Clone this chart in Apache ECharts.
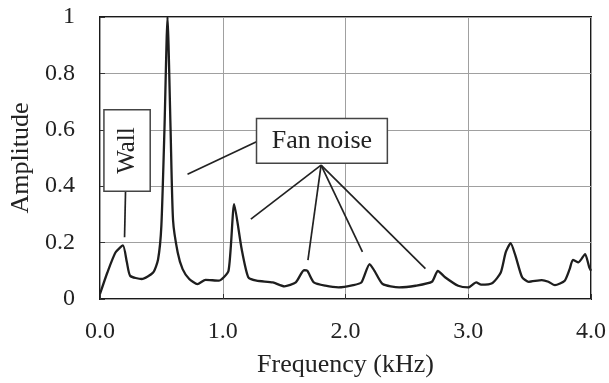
<!DOCTYPE html>
<html>
<head>
<meta charset="utf-8">
<script src="https://cdn.jsdelivr.net/npm/echarts@6/dist/echarts.min.js"></script>
<style>
  html,body{margin:0;padding:0;background:#fff;}
  #main{width:609px;height:383px;}
</style>
</head>
<body>
<div id="main"></div>
<script>
// spectrum (kHz, amplitude)
var freq = [0, 0.06, 0.126, 0.187, 0.219, 0.246, 0.34, 0.433, 0.473, 0.5, 0.525, 0.55, 0.575, 0.595, 0.633, 0.673, 0.727, 0.794, 0.86, 0.967,
            1.047, 1.093, 1.154, 1.208, 1.275, 1.408, 1.502, 1.595, 1.662, 1.689, 1.742, 1.836, 1.943, 2.063, 2.13, 2.196, 2.236, 2.303,
            2.437, 2.571, 2.704, 2.752, 2.811, 2.918, 3.0, 3.065, 3.105, 3.198, 3.265, 3.305, 3.345, 3.385, 3.439, 3.493, 3.599, 3.653,
            3.706, 3.786, 3.826, 3.853, 3.898, 3.952, 3.986, 4.0];
var amp  = [0.018, 0.094, 0.165, 0.19, 0.13, 0.082, 0.071, 0.094, 0.14, 0.26, 0.6, 1.0, 0.6, 0.28, 0.165, 0.106, 0.071, 0.053, 0.068, 0.065,
            0.1, 0.336, 0.177, 0.077, 0.065, 0.059, 0.045, 0.059, 0.102, 0.1, 0.059, 0.047, 0.041, 0.049, 0.059, 0.124, 0.1, 0.053,
            0.041, 0.047, 0.061, 0.1, 0.077, 0.047, 0.041, 0.059, 0.051, 0.057, 0.094, 0.165, 0.198, 0.153, 0.077, 0.061, 0.067, 0.061,
            0.049, 0.065, 0.106, 0.139, 0.13, 0.159, 0.112, 0.1];

var xTicks = [0, 1, 2, 3, 4];
var yTicks = [0, 0.2, 0.4, 0.6, 0.8, 1];

// annotation boxes and leader lines, in data units
var wallBox = {x0: 0.032, x1: 0.409, y0: 0.382, y1: 0.671, text: 'Wall'};
var fanBox  = {x0: 1.275, x1: 2.341, y0: 0.481, y1: 0.64, text: 'Fan noise'};
var leaders = [
  [[0.208, 0.382], [0.2, 0.219]],
  [[1.275, 0.558], [0.713, 0.442]],
  [[1.801, 0.475], [1.229, 0.283]],
  [[1.801, 0.475], [1.694, 0.138]],
  [[1.801, 0.475], [2.138, 0.167]],
  [[1.801, 0.475], [2.651, 0.108]]
];

var serif = "'Liberation Serif', 'Times New Roman', serif";
var txt = '#222';

var points = [];
for (var i = 0; i < freq.length; i++) points.push([freq[i], amp[i]]);

var myChart = echarts.init(document.getElementById('main'));
var option = {
  animation: false,
  grid: {left: 96, right: 14, top: 17, bottom: 83, show: true, borderColor: '#1a1a1a', borderWidth: 2},
  xAxis: {
    type: 'value', min: xTicks[0], max: xTicks[xTicks.length - 1], interval: 1,
    name: 'Frequency (kHz)', nameLocation: 'middle', nameGap: 53,
    nameTextStyle: {fontFamily: serif, fontSize: 26, color: txt},
    axisLine: {show: false},
    axisTick: {show: true, inside: true, length: 5, lineStyle: {color: '#333'}},
    axisLabel: {margin: 21, fontFamily: serif, fontSize: 24, color: txt,
      formatter: function (v) { return v.toFixed(1); }},
    splitLine: {show: true, lineStyle: {color: '#a0a0a0', width: 1}}
  },
  yAxis: {
    type: 'value', min: yTicks[0], max: yTicks[yTicks.length - 1], interval: 0.2,
    name: 'Amplitude', nameLocation: 'middle', nameGap: 66,
    nameTextStyle: {fontFamily: serif, fontSize: 26, color: txt},
    axisLine: {show: false},
    axisTick: {show: true, inside: true, length: 5, lineStyle: {color: '#333'}},
    axisLabel: {margin: 25, fontFamily: serif, fontSize: 24, color: txt,
      formatter: function (v) { return (v === 0 || v === 1) ? String(v) : v.toFixed(1); }},
    splitLine: {show: true, lineStyle: {color: '#a0a0a0', width: 1}}
  },
  series: [{
    type: 'line',
    data: points,
    smooth: 0.2,
    symbol: 'none',
    lineStyle: {color: '#1e1e1e', width: 2.3},
    markLine: {
      silent: true,
      symbol: ['none', 'none'],
      label: {show: false},
      lineStyle: {color: '#222', width: 1.7, type: 'solid'},
      data: leaders.map(function (l) { return [{coord: l[0]}, {coord: l[1]}]; })
    },
    z: 3
  }]
};
myChart.setOption(option);

// boxes placed through the chart's own scales
function boxGraphic(b, rotate) {
  var p0 = myChart.convertToPixel({gridIndex: 0}, [b.x0, b.y1]);
  var p1 = myChart.convertToPixel({gridIndex: 0}, [b.x1, b.y0]);
  var w = p1[0] - p0[0], h = p1[1] - p0[1];
  return [{
    type: 'rect', z: 10,
    shape: {x: p0[0], y: p0[1], width: w, height: h},
    style: {fill: '#fff', stroke: '#444', lineWidth: 1.5}
  }, {
    type: 'text', z: 11,
    x: p0[0] + w / 2, y: p0[1] + h / 2,
    rotation: rotate ? Math.PI / 2 : 0,
    style: {text: b.text, fontFamily: serif, fontSize: rotate ? 25 : 26, fill: txt,
      align: 'center', verticalAlign: 'middle'}
  }];
}
myChart.setOption({graphic: boxGraphic(wallBox, true).concat(boxGraphic(fanBox, false))});
</script>
</body>
</html>
